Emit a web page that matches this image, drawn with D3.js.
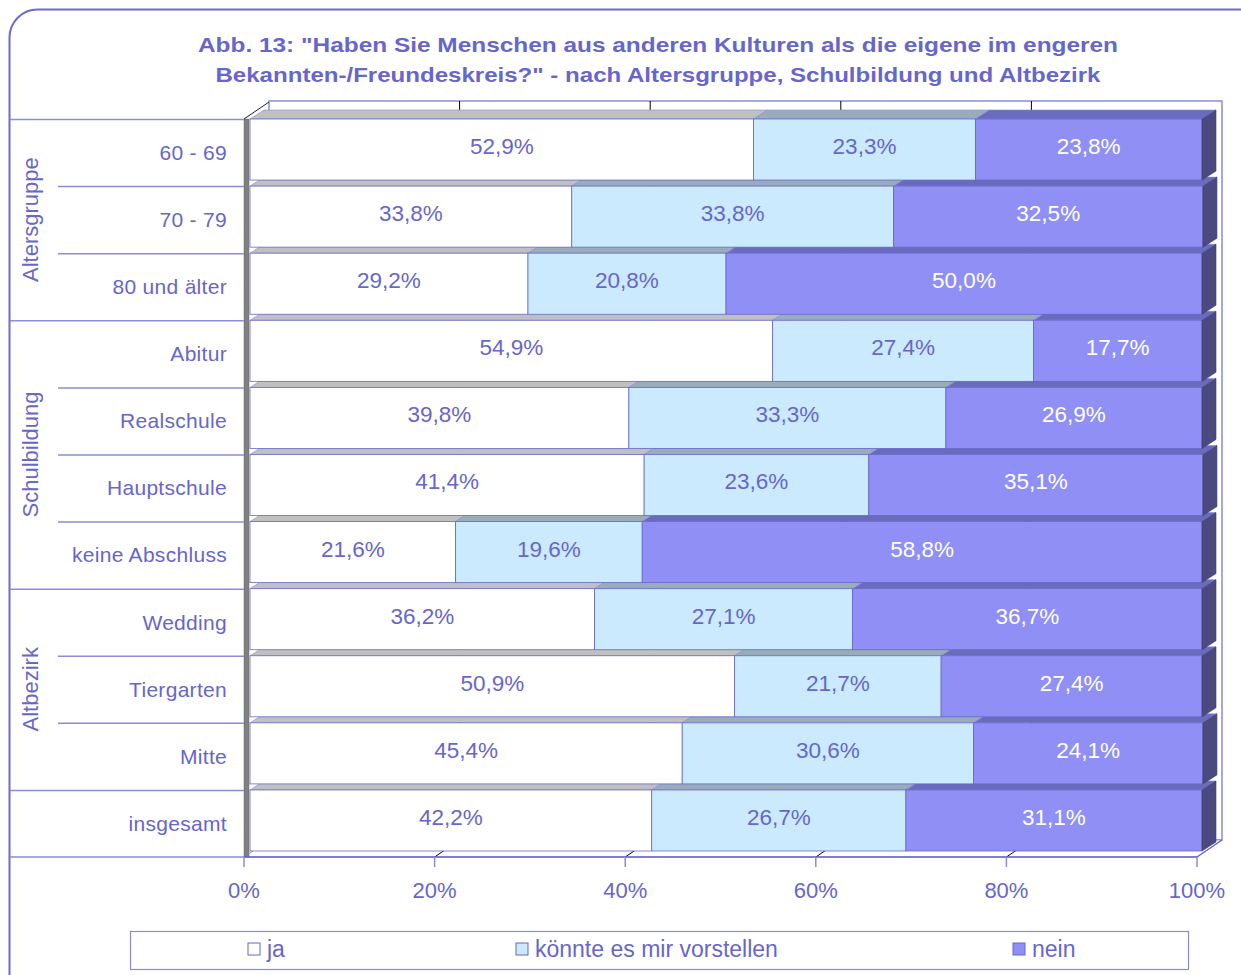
<!DOCTYPE html>
<html>
<head>
<meta charset="utf-8">
<script src="https://cdn.jsdelivr.net/npm/d3@7"></script>
<style>
  html, body { margin: 0; padding: 0; background: #fff; }
  svg { display: block; font-family: "Liberation Sans", Arial, sans-serif; }
</style>
</head>
<body>
<div id="chart"></div>
<script>
// data
const categories = ["60 - 69", "70 - 79", "80 und älter", "Abitur", "Realschule", "Hauptschule",
                    "keine Abschluss", "Wedding", "Tiergarten", "Mitte", "insgesamt"];
const ja      = [52.9, 33.8, 29.2, 54.9, 39.8, 41.4, 21.6, 36.2, 50.9, 45.4, 42.2];
const koennte = [23.3, 33.8, 20.8, 27.4, 33.3, 23.6, 19.6, 27.1, 21.7, 30.6, 26.7];
const nein    = [23.8, 32.5, 50.0, 17.7, 26.9, 35.1, 58.8, 36.7, 27.4, 24.1, 31.1];
const seriesNames = ["ja", "könnte es mir vorstellen", "nein"];
const groupNames = ["Altersgruppe", "Schulbildung", "Altbezirk"];
const groupFirst = [0, 3, 7];
const groupLast  = [2, 6, 9];
const ticks = [0, 20, 40, 60, 80, 100];
const title1 = 'Abb. 13: "Haben Sie Menschen aus anderen Kulturen als die eigene im engeren';
const title2 = 'Bekannten-/Freundeskreis?" - nach Altersgruppe, Schulbildung und Altbezirk';

const W = 1241, H = 975;
const blue = "#6666cc";
const lineBlue = "#8a8ade";

// colours per series: front, top face
const front = ["#ffffff", "#cceafd", "#8f8ff6"];
const topC  = ["#c0c0c0", "#98adb9", "#6b6bbd"];
const sideC = "#4a4a80";

const svg = d3.select("#chart").append("svg")
    .attr("width", W).attr("height", H);

// outer rounded frame
svg.append("rect")
    .attr("x", 9.5).attr("y", 9.5)
    .attr("width", 1300).attr("height", 1050)
    .attr("rx", 28)
    .attr("fill", "#fff")
    .attr("stroke", "#6b6bd0").attr("stroke-width", 2);

// title
svg.append("text").attr("x", 658).attr("y", 52)
    .attr("text-anchor", "middle").attr("fill", blue)
    .attr("font-weight", "bold").attr("font-size", 21)
    .attr("textLength", 920).attr("lengthAdjust", "spacingAndGlyphs")
    .text(title1);
svg.append("text").attr("x", 658).attr("y", 82)
    .attr("text-anchor", "middle").attr("fill", blue)
    .attr("font-weight", "bold").attr("font-size", 21)
    .attr("textLength", 885).attr("lengthAdjust", "spacingAndGlyphs")
    .text(title2);

// scales
const xa = d3.scaleLinear().domain([0, 100]).range([244, 1197]);   // axis / floor front
const x  = d3.scaleLinear().domain([0, 100]).range([250, 1202]);   // bar fronts
const y  = d3.scaleBand().domain(categories).range([119, 851]).paddingInner(0.09);
const wallDx = 25, wallDy = 17;
const barDx = 14, barDy = 9;
const floorY = 857;

// back wall
svg.append("rect")
    .attr("x", xa(0) + wallDx).attr("y", 101)
    .attr("width", xa(100) - xa(0)).attr("height", floorY - wallDy - 101)
    .attr("fill", "#fff").attr("stroke", lineBlue).attr("stroke-width", 1.5);

// floor
svg.append("polygon")
    .attr("points", [[xa(0), floorY], [xa(100), floorY], [xa(100) + wallDx, floorY - wallDy], [xa(0) + wallDx, floorY - wallDy]].join(" "))
    .attr("fill", "#fff").attr("stroke", lineBlue).attr("stroke-width", 1);

// gridlines on wall and floor
svg.selectAll(".grid").data(ticks.slice(1, -1)).enter().append("line")
    .attr("x1", d => xa(d) + wallDx).attr("x2", d => xa(d) + wallDx)
    .attr("y1", 101).attr("y2", floorY - wallDy)
    .attr("stroke", "#000").attr("stroke-width", 1);
svg.selectAll(".fgrid").data(ticks.slice(1, -1)).enter().append("line")
    .attr("x1", d => xa(d)).attr("x2", d => xa(d) + wallDx)
    .attr("y1", floorY).attr("y2", floorY - wallDy)
    .attr("stroke", "#000").attr("stroke-width", 1);

// left wall strip
svg.append("rect")
    .attr("x", 244).attr("y", 119).attr("width", 5).attr("height", floorY - 119)
    .attr("fill", "#808080").attr("stroke", "#6a6a6a").attr("stroke-width", 0.5);
svg.append("line")
    .attr("x1", 244).attr("y1", 119).attr("x2", 244 + wallDx).attr("y2", 119 - wallDy)
    .attr("stroke", "#222").attr("stroke-width", 1);

// stacked data
const rows = categories.map((c, i) => ({ cat: c, s0: ja[i], s1: koennte[i], s2: nein[i] }));
const stacked = d3.stack().keys(["s0", "s1", "s2"])(rows);

// bars, drawn bottom row first so upper bars cover lower top faces
const order = d3.range(categories.length).reverse();
const bh = y.bandwidth();

order.forEach(i => {
    const g = svg.append("g");
    const y0 = y(categories[i]);
    stacked.forEach((ser, k) => {
        const a = x(ser[i][0]), b = x(ser[i][1]);
        g.append("polygon")
            .attr("points", [[a, y0], [b, y0], [b + barDx, y0 - barDy], [a + barDx, y0 - barDy]].join(" "))
            .attr("fill", topC[k]).attr("stroke", lineBlue).attr("stroke-width", 0.6);
        g.append("rect")
            .attr("x", a).attr("y", y0).attr("width", b - a).attr("height", bh)
            .attr("fill", front[k]).attr("stroke", blue).attr("stroke-width", 0.8);
    });
    const e = x(stacked[2][i][1]);
    g.append("polygon")
        .attr("points", [[e, y0], [e + barDx, y0 - barDy], [e + barDx, y0 + bh - barDy], [e, y0 + bh]].join(" "))
        .attr("fill", sideC).attr("stroke", "#3c3c70").attr("stroke-width", 0.6);

    // value labels
    stacked.forEach((ser, k) => {
        const a = x(ser[i][0]), b = x(ser[i][1]);
        g.append("text")
            .attr("x", (a + b) / 2).attr("y", y0 + 35)
            .attr("text-anchor", "middle")
            .attr("font-size", 22.5)
            .attr("fill", k === 2 ? "#ffffff" : blue)
            .text(d3.format(".1f")(ser[i][1] - ser[i][0]).replace(".", ",") + "%");
    });
});

// floor front edge and right diagonal
svg.append("line")
    .attr("x1", xa(0)).attr("x2", xa(100)).attr("y1", floorY).attr("y2", floorY)
    .attr("stroke", blue).attr("stroke-width", 1.5);
svg.append("line")
    .attr("x1", xa(100)).attr("x2", xa(100) + wallDx).attr("y1", floorY).attr("y2", floorY - wallDy)
    .attr("stroke", blue).attr("stroke-width", 1.2);

// x axis ticks and labels
svg.selectAll(".tick").data(ticks).enter().append("line")
    .attr("x1", d => xa(d)).attr("x2", d => xa(d))
    .attr("y1", floorY).attr("y2", floorY + 10)
    .attr("stroke", lineBlue).attr("stroke-width", 1.5);
svg.selectAll(".tlab").data(ticks).enter().append("text")
    .attr("x", d => xa(d)).attr("y", 898)
    .attr("text-anchor", "middle").attr("font-size", 22).attr("fill", blue)
    .text(d => d + "%");

// category axis: separator lines
categories.forEach((c, i) => {
    const isGroupStart = groupFirst.includes(i) || i === categories.length - 1;
    svg.append("line")
        .attr("x1", isGroupStart ? 10 : 58).attr("x2", 244)
        .attr("y1", y(c) + 0.5).attr("y2", y(c) + 0.5)
        .attr("stroke", lineBlue).attr("stroke-width", 1.5);
});
svg.append("line")
    .attr("x1", 10).attr("x2", 244).attr("y1", floorY).attr("y2", floorY)
    .attr("stroke", lineBlue).attr("stroke-width", 1.5);

// category labels
svg.selectAll(".clab").data(categories).enter().append("text")
    .attr("x", 227).attr("y", d => y(d) + y.step() / 2)
    .attr("dy", "0.35em")
    .attr("text-anchor", "end").attr("font-size", 21).attr("fill", blue)
    .attr("letter-spacing", 0.3)
    .text(d => d);

// group labels, rotated
groupNames.forEach((name, j) => {
    const cy = (y(categories[groupFirst[j]]) + y(categories[groupLast[j]]) + y.step()) / 2;
    svg.append("text")
        .attr("transform", `translate(38,${cy}) rotate(-90)`)
        .attr("text-anchor", "middle").attr("font-size", 22).attr("fill", blue)
        .text(name);
});

// legend
svg.append("rect")
    .attr("x", 130.5).attr("y", 931.5).attr("width", 1058).attr("height", 38)
    .attr("fill", "#fff").attr("stroke", lineBlue).attr("stroke-width", 1.2);
const legendX = [248, 516, 1013];
seriesNames.forEach((name, k) => {
    svg.append("rect")
        .attr("x", legendX[k]).attr("y", 943).attr("width", 12).attr("height", 12)
        .attr("fill", front[k]).attr("stroke", blue).attr("stroke-width", 1);
    svg.append("text")
        .attr("x", legendX[k] + 19).attr("y", 957)
        .attr("font-size", 23).attr("fill", blue)
        .text(name);
});
</script>
</body>
</html>
